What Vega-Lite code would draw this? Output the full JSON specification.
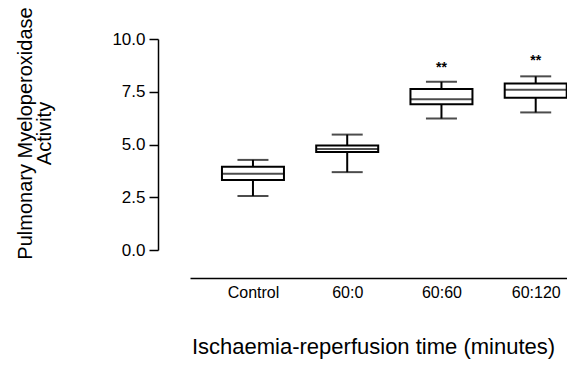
{
  "$schema": "https://vega.github.io/schema/vega-lite/v6.json",
  "autosize": {"type": "none"},
  "width": 377,
  "height": 211,
  "padding": {"left": 190, "top": 39, "right": 0, "bottom": 138},
  "background": "white",
  "config": {"view": {"stroke": null}, "font": "Liberation Sans"},
  "data": {"values": [
    {"group": "Control", "min": 2.56, "q1": 3.32, "median": 3.61, "q3": 3.95, "max": 4.27, "sig": "", "sig_y": null},
    {"group": "60:0", "min": 3.69, "q1": 4.64, "median": 4.79, "q3": 4.95, "max": 5.47, "sig": "", "sig_y": null},
    {"group": "60:60", "min": 6.23, "q1": 6.91, "median": 7.15, "q3": 7.63, "max": 7.97, "sig": "**", "sig_y": 8.62},
    {"group": "60:120", "min": 6.52, "q1": 7.21, "median": 7.59, "q3": 7.89, "max": 8.23, "sig": "**", "sig_y": 8.96}
  ]},
  "encoding": {
    "x": {
      "field": "group", "type": "nominal", "sort": ["Control", "60:0", "60:60", "60:120"],
      "scale": {"type": "point", "padding": 0.5, "align": 0.668},
      "axis": {
        "title": "Ischaemia-reperfusion time (minutes)", "titleFont": "Liberation Sans", "titleFontSize": 22, "titleFontWeight": "normal", "titleColor": "black", "titlePadding": 36, "titleX": 183,
        "labelAngle": 0, "labelFontSize": 16, "labelColor": "black", "labelPadding": 6, "labelDx": -6,
        "ticks": false, "domainColor": "black", "domainWidth": 1.5, "offset": 28
      }
    }
  },
  "layer": [
    {
      "mark": {"type": "rule", "color": "black", "strokeWidth": 2},
      "encoding": {
        "y": {"field": "min", "type": "quantitative", "scale": {"domain": [0, 10], "nice": false, "zero": true},
          "axis": {
            "title": ["Pulmonary Myeloperoxidase", "Activity"], "titleFont": "Liberation Sans", "titleFontSize": 20, "titleFontWeight": "normal", "titleColor": "black", "titleLineHeight": 19, "titlePadding": 57, "titleY": 94,
            "values": [0, 2.5, 5, 7.5, 10], "format": ".1f", "labelFontSize": 17, "labelColor": "black", "labelPadding": 4,
            "tickSize": 9, "tickColor": "black", "tickWidth": 1.5, "domainColor": "black", "domainWidth": 1.5, "grid": false, "offset": 32
          }},
        "y2": {"field": "max"}
      }
    },
    {
      "mark": {"type": "bar", "fill": "white", "stroke": "black", "strokeWidth": 2, "size": 62},
      "encoding": {"y": {"field": "q1", "type": "quantitative"}, "y2": {"field": "q3"}}
    },
    {
      "mark": {"type": "tick", "color": "black", "thickness": 2, "size": 62},
      "encoding": {"y": {"field": "median", "type": "quantitative"}}
    },
    {
      "mark": {"type": "tick", "color": "black", "thickness": 2, "size": 31},
      "encoding": {"y": {"field": "min", "type": "quantitative"}}
    },
    {
      "mark": {"type": "tick", "color": "black", "thickness": 2, "size": 31},
      "encoding": {"y": {"field": "max", "type": "quantitative"}}
    },
    {
      "transform": [{"filter": "datum.sig != ''"}],
      "mark": {"type": "text", "fontSize": 14, "fontWeight": "bold", "color": "black", "baseline": "middle"},
      "encoding": {"y": {"field": "sig_y", "type": "quantitative"}, "text": {"field": "sig"}}
    }
  ]
}
